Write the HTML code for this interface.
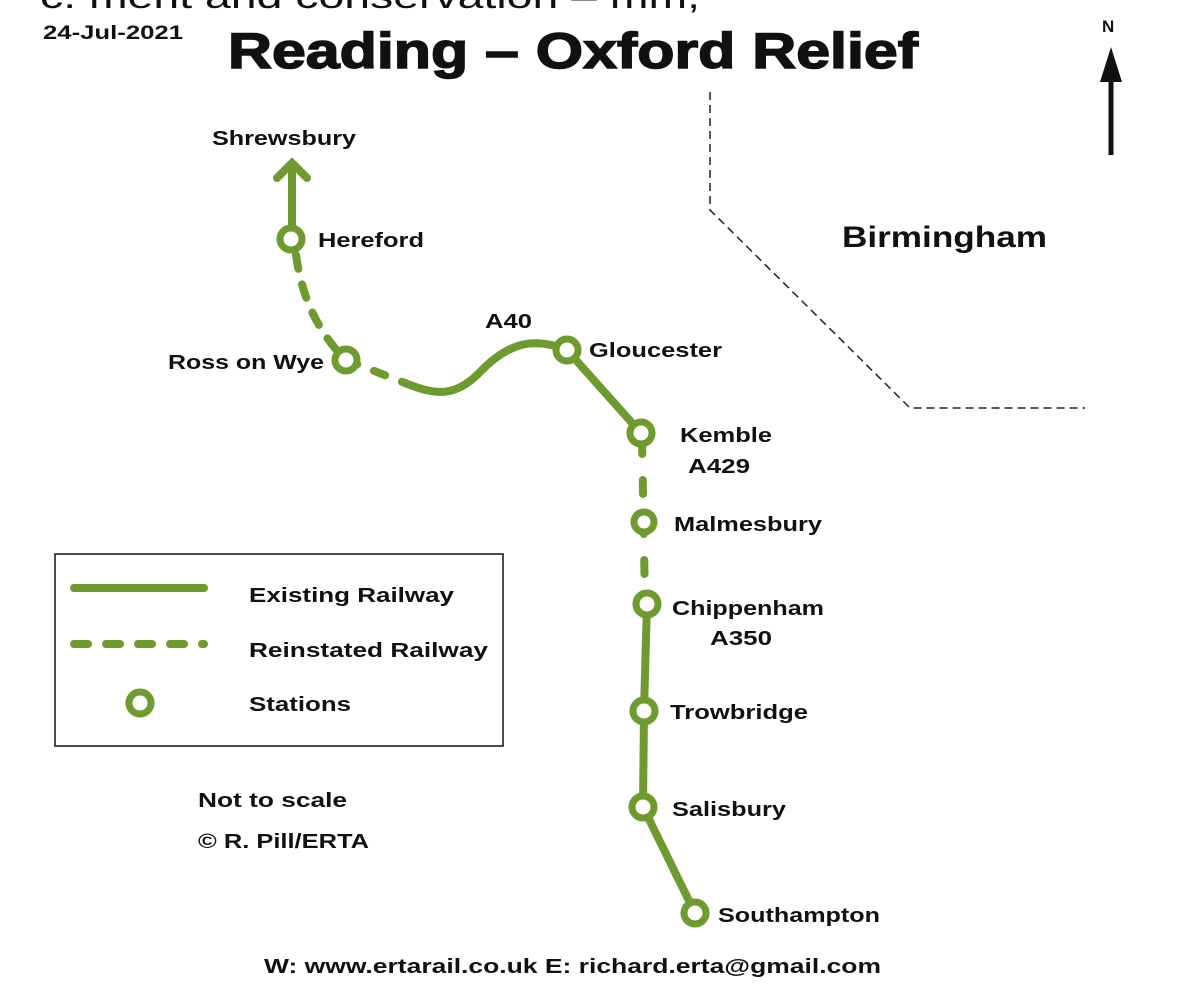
<!DOCTYPE html>
<html><head><meta charset="utf-8"><style>
html,body{margin:0;padding:0;background:#fff;}
body{width:1200px;height:1001px;overflow:hidden;position:relative;font-family:"Liberation Sans",Arial,sans-serif;}
svg{position:absolute;left:0;top:0;}
</style></head><body>
<svg width="1200" height="1001" viewBox="0 0 1200 1001" font-family="Liberation Sans, Arial, sans-serif" font-weight="bold">
<text x="40" y="8" font-size="34" font-weight="normal" fill="#111" textLength="660" lengthAdjust="spacingAndGlyphs">c.            ment and conservation  –   mm,</text>
<text x="43" y="39" font-size="19" fill="#111" textLength="140" lengthAdjust="spacingAndGlyphs">24-Jul-2021</text>
<text x="228" y="68" font-size="50" fill="#111" stroke="#111" stroke-width="1.5" textLength="690" lengthAdjust="spacingAndGlyphs">Reading – Oxford Relief</text>
<text x="1102" y="32" font-size="17" fill="#111">N</text>
<line x1="1111" y1="155" x2="1111" y2="70" stroke="#111" stroke-width="5"/>
<polygon points="1100,82 1111,47 1122,82" fill="#111"/>
<polyline points="710,92 710,210 910,408 1085,408" fill="none" stroke="#222" stroke-width="1.5" stroke-dasharray="8,5"/>
<text x="842" y="247" font-size="30" fill="#111" textLength="205" lengthAdjust="spacingAndGlyphs">Birmingham</text>
<g stroke="#6e9a2f" stroke-width="8" fill="none" stroke-linecap="round">
<line x1="292" y1="230" x2="292" y2="165"/>
<polyline points="277,178 292,163 307,178"/>
<path d="M296,255 Q305,320 346,360" stroke-dasharray="14,16"/>
<path d="M346,360 L405,383" stroke-dasharray="12,18"/>
<path d="M405,383 C435,395 455,398 480,372 S 530,335 567,350"/>
<line x1="567" y1="350" x2="641" y2="433"/>
<line x1="642" y1="440" x2="645" y2="600" stroke-dasharray="14,26"/>
<line x1="647" y1="604" x2="644" y2="711"/>
<line x1="644" y1="711" x2="643" y2="807"/>
<line x1="643" y1="807" x2="695" y2="913"/>
<line x1="74" y1="588" x2="204" y2="588"/>
<line x1="74" y1="644" x2="204" y2="644" stroke-dasharray="14,18"/>
</g>
<g stroke="#6e9a2f" stroke-width="7" fill="#fff">
<circle cx="291" cy="239" r="11"/>
<circle cx="346" cy="360" r="11"/>
<circle cx="567" cy="350" r="11"/>
<circle cx="641" cy="433" r="11"/>
<circle cx="644" cy="522" r="10"/>
<circle cx="647" cy="604" r="11"/>
<circle cx="644" cy="711" r="11"/>
<circle cx="643" cy="807" r="11"/>
<circle cx="695" cy="913" r="11"/>
<circle cx="140" cy="703" r="11"/>
</g>
<g font-size="20" fill="#111" lengthAdjust="spacingAndGlyphs">
<text x="212" y="145" textLength="144" lengthAdjust="spacingAndGlyphs">Shrewsbury</text>
<text x="318" y="247" textLength="106" lengthAdjust="spacingAndGlyphs">Hereford</text>
<text x="168" y="369" textLength="156" lengthAdjust="spacingAndGlyphs">Ross on Wye</text>
<text x="485" y="328" textLength="47" lengthAdjust="spacingAndGlyphs">A40</text>
<text x="589" y="357" textLength="133" lengthAdjust="spacingAndGlyphs">Gloucester</text>
<text x="680" y="442" textLength="92" lengthAdjust="spacingAndGlyphs">Kemble</text>
<text x="688" y="473" textLength="62" lengthAdjust="spacingAndGlyphs">A429</text>
<text x="674" y="531" textLength="148" lengthAdjust="spacingAndGlyphs">Malmesbury</text>
<text x="672" y="615" textLength="152" lengthAdjust="spacingAndGlyphs">Chippenham</text>
<text x="710" y="645" textLength="62" lengthAdjust="spacingAndGlyphs">A350</text>
<text x="670" y="719" textLength="138" lengthAdjust="spacingAndGlyphs">Trowbridge</text>
<text x="672" y="816" textLength="114" lengthAdjust="spacingAndGlyphs">Salisbury</text>
<text x="718" y="922" textLength="162" lengthAdjust="spacingAndGlyphs">Southampton</text>
<text x="249" y="602" textLength="205" lengthAdjust="spacingAndGlyphs">Existing Railway</text>
<text x="249" y="657" textLength="239" lengthAdjust="spacingAndGlyphs">Reinstated Railway</text>
<text x="249" y="711" textLength="102" lengthAdjust="spacingAndGlyphs">Stations</text>
<text x="198" y="807" textLength="149" lengthAdjust="spacingAndGlyphs">Not to scale</text>
<text x="198" y="848" textLength="171" lengthAdjust="spacingAndGlyphs">© R. Pill/ERTA</text>
<text x="264" y="973" textLength="617" lengthAdjust="spacingAndGlyphs">W: www.ertarail.co.uk    E: richard.erta@gmail.com</text>
</g>
<rect x="55" y="554" width="448" height="192" fill="none" stroke="#111" stroke-width="1.5"/>
</svg>
</body></html>
